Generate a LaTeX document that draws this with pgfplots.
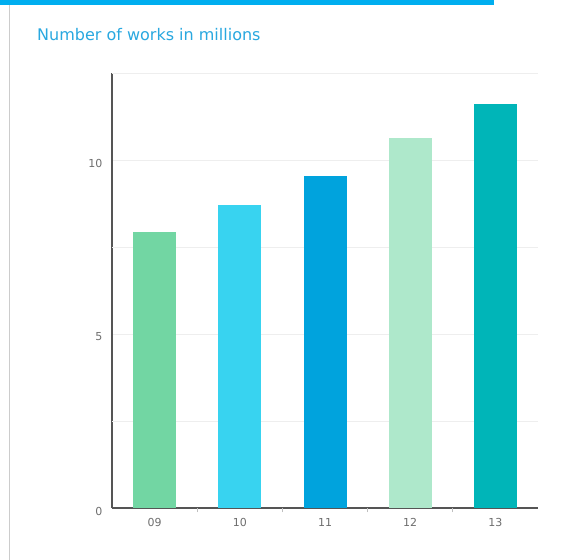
\documentclass[border=0pt]{standalone}
\usepackage{pgfplots}
\pgfplotsset{compat=1.18}
\usepackage{fontspec}
\setmainfont{DejaVu Sans}
\definecolor{topblue}{HTML}{00AEEF}
\definecolor{titleblue}{HTML}{29A8E0}
\definecolor{cA}{HTML}{72D6A3}
\definecolor{cB}{HTML}{38D3F0}
\definecolor{cC}{HTML}{00A3DD}
\definecolor{cD}{HTML}{AEE8CB}
\definecolor{cE}{HTML}{00B5B8}
\definecolor{gridc}{HTML}{EEEEEE}
\definecolor{axc}{HTML}{555555}
\definecolor{labc}{HTML}{6E6E6E}
\begin{document}
\begin{tikzpicture}
\path[use as bounding box, fill=white] (0,0) rectangle (563bp,-560bp);
\fill[topblue] (0,0) rectangle (494bp,-5bp);
\draw[draw=black!20, line width=1bp] (9bp,-5bp) -- (9bp,-560bp);
\node[anchor=west, inner sep=0pt, text=titleblue, font=\fontsize{16bp}{17bp}\selectfont] at (37bp,-35bp) {Number of works in millions};
\begin{axis}[
  at={(112bp,-508bp)}, anchor=south west,
  scale only axis, width=426bp, height=435bp,
  xmin=-0.5, xmax=4.5, ymin=0, ymax=12.5,
  axis x line*=bottom, axis y line*=left,
  axis line style={-, draw=axc, line width=1.6bp},
  xtick={0,1,2,3,4}, xticklabels={09,10,11,12,13},
  ytick={0,5,10},
  extra y ticks={2.5,7.5,12.5}, extra y tick labels={},
  extra y tick style={grid=major},
  ymajorgrids, grid style={draw=gridc, line width=1bp},
  major tick length=0pt,
  extra x ticks={0.5,1.5,2.5,3.5}, extra x tick labels={},
  extra x tick style={major tick length=4bp, tick style={draw=black!25, line width=1bp}, tick align=outside},
  tick label style={text=labc, font=\fontsize{11bp}{12bp}\selectfont},
  yticklabel style={xshift=-6bp, yshift=-3bp},
  xticklabel style={yshift=-7bp},
  /pgf/number format/assume math mode=true,
  clip=false,
]
\addplot[ybar, bar shift=0pt, bar width=43bp, fill=cA, draw=none] coordinates {(0,7.92)};
\addplot[ybar, bar shift=0pt, bar width=43bp, fill=cB, draw=none] coordinates {(1,8.72)};
\addplot[ybar, bar shift=0pt, bar width=43bp, fill=cC, draw=none] coordinates {(2,9.55)};
\addplot[ybar, bar shift=0pt, bar width=43bp, fill=cD, draw=none] coordinates {(3,10.62)};
\addplot[ybar, bar shift=0pt, bar width=43bp, fill=cE, draw=none] coordinates {(4,11.62)};
\end{axis}
\end{tikzpicture}
\end{document}
